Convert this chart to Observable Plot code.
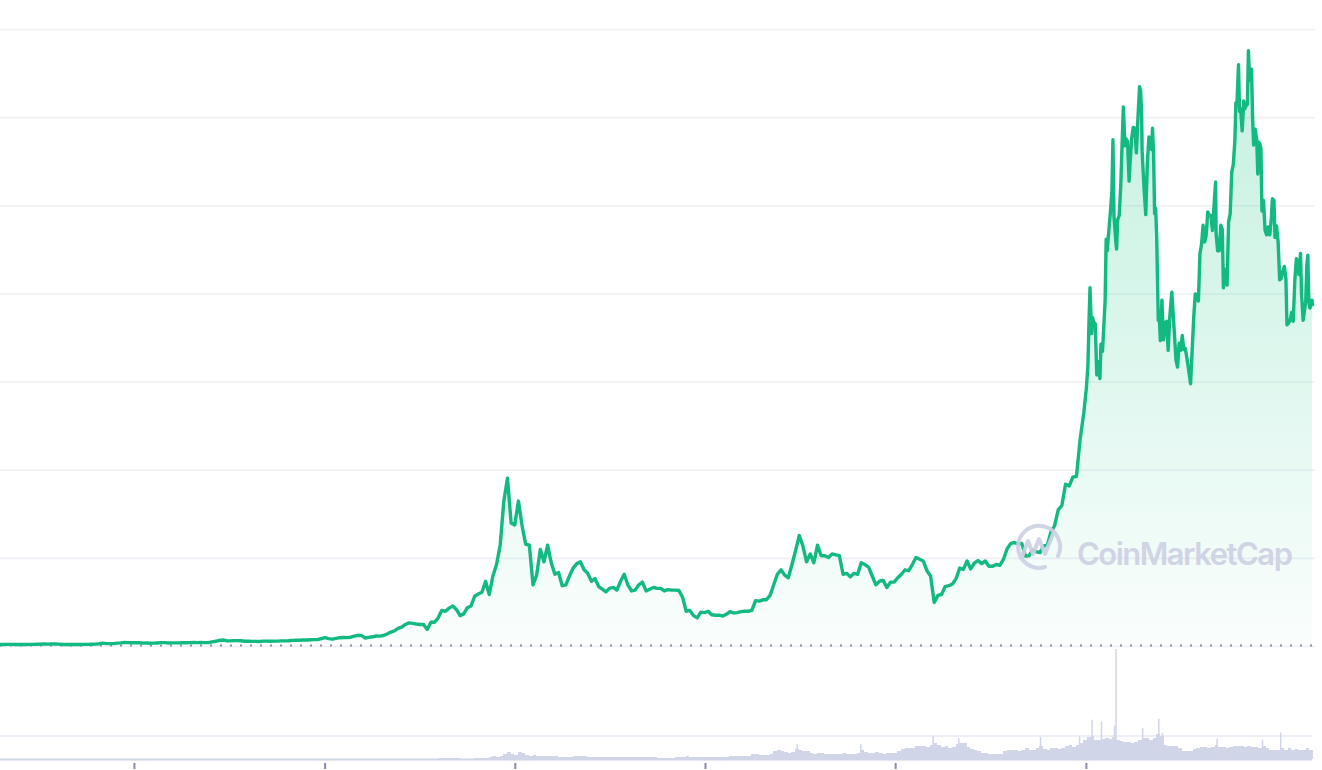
<!DOCTYPE html>
<html>
<head>
<meta charset="utf-8">
<script src="https://cdn.jsdelivr.net/npm/d3@7"></script>
<script src="https://cdn.jsdelivr.net/npm/@observablehq/plot@0.6"></script>
<style>
  html, body { margin: 0; padding: 0; background: #ffffff; }
  #chart { position: relative; width: 1322px; height: 770px; overflow: hidden; background: #ffffff; }
  #chart svg { position: absolute; left: 0; max-width: none; background: transparent; }
</style>
</head>
<body>
<div id="chart"></div>
<script>
// ---------- data ----------
const domainStart = "2015-04-19";
const domainEnd = "2022-03-11";
const weeklyStart = "2015-04-19"; // weekly points, one per week from this Sunday

// weekly BTC price (USD), Apr 2015 – Dec 2020
const weeklyPrices2015 = [225,235,240,240,235,237,225,230,245,245,260,270,290,275,290,278,265,230,228,235,240,232,230,238,245,262,270,315,380,330,330,325,380,410,450,440,430];
const weeklyPrices2016 = [430,445,385,400,375,380,405,435,435,405,415,410,415,420,420,435,460,445,455,445,445,530,590,690,740,660,640,665,665,655,590,590,580,580,575,610,608,600,605,610,640,640,655,700,705,710,735,735,765,775,795,900];
const weeklyPrices2017 = [1000,900,830,920,1000,1020,1010,1050,1180,1270,1230,970,1040,1100,1190,1180,1250,1420,1640,1780,2050,2200,2500,2680,2620,2550,2500,2500,1930,2750,2750,3250,4100,4000,4350,4600,4200,3500,3700,4400,4600,5700,5950,6150,7400,5900,8000,9300,11500,16500,19100,14000,13800];
const weeklyPrices2018 = [16500,13700,11600,11500,7000,8100,11000,9600,11500,9500,8200,8400,6900,7000,8000,8900,9400,9600,8700,8300,7400,7700,6800,6500,6200,6600,6700,6400,7400,8200,7000,6300,6400,7000,7300,6300,6500,6700,6600,6600,6300,6450,6400,6400,6350,5600,4000,4100,3500,3250,3900,3850];
const weeklyPrices2019 = [4000,3600,3550,3550,3450,3650,3950,3800,3850,3950,4000,4000,4100,5200,5150,5300,5300,5800,7000,8200,8700,8100,7800,9300,10900,12600,11400,9600,10500,9500,11500,10300,10300,10100,10500,10400,10300,8200,8300,7900,8300,8200,9500,9300,9000,8000,7000,7400,7500,6700,7300,7300];
const weeklyPrices2020 = [7800,8200,8700,8600,9300,10100,9900,9700,8600,8000,5000,5800,5900,6800,6900,7100,7700,8900,8750,9700,8800,9450,9750,9400,9700,9100,9100,9300,9200,9900,11100,11700,11800,11650,11700,10250,10300,10950,10750,10650,11400,11500,13000,13700,15500,16000,18400,18200,19200,19300,23500,26500];

// denser points, Jan 2021 – Mar 2022
const recentDates = ["2021-01-01","2021-01-04","2021-01-06","2021-01-08","2021-01-11","2021-01-13","2021-01-15","2021-01-18","2021-01-21","2021-01-24","2021-01-27","2021-01-29",
"2021-02-01","2021-02-04","2021-02-06","2021-02-08","2021-02-10","2021-02-13","2021-02-16","2021-02-19","2021-02-21","2021-02-23","2021-02-26","2021-02-28",
"2021-03-02","2021-03-05","2021-03-08","2021-03-10","2021-03-13","2021-03-16","2021-03-18","2021-03-21","2021-03-24","2021-03-26","2021-03-29",
"2021-04-01","2021-04-04","2021-04-07","2021-04-10","2021-04-13","2021-04-15","2021-04-17","2021-04-18","2021-04-22","2021-04-25","2021-04-28",
"2021-05-01","2021-05-03","2021-05-06","2021-05-08","2021-05-10","2021-05-12","2021-05-14","2021-05-16","2021-05-19","2021-05-21","2021-05-23","2021-05-26","2021-05-29",
"2021-06-01","2021-06-04","2021-06-07","2021-06-10","2021-06-14","2021-06-16","2021-06-19","2021-06-22","2021-06-25","2021-06-28",
"2021-07-01","2021-07-04","2021-07-07","2021-07-10","2021-07-13","2021-07-16","2021-07-20","2021-07-23","2021-07-26","2021-07-29",
"2021-08-01","2021-08-04","2021-08-07","2021-08-10","2021-08-13","2021-08-16","2021-08-19","2021-08-22","2021-08-25","2021-08-28","2021-08-31",
"2021-09-03","2021-09-06","2021-09-07","2021-09-10","2021-09-13","2021-09-16","2021-09-19","2021-09-21","2021-09-24","2021-09-28",
"2021-10-01","2021-10-04","2021-10-07","2021-10-10","2021-10-13","2021-10-15","2021-10-17","2021-10-20","2021-10-22","2021-10-24","2021-10-27","2021-10-30",
"2021-11-01","2021-11-04","2021-11-06","2021-11-08","2021-11-10","2021-11-12","2021-11-14","2021-11-16","2021-11-18","2021-11-21","2021-11-24","2021-11-26","2021-11-28","2021-11-30",
"2021-12-02","2021-12-04","2021-12-07","2021-12-10","2021-12-13","2021-12-16","2021-12-19","2021-12-22","2021-12-24","2021-12-27","2021-12-29",
"2022-01-01","2022-01-04","2022-01-07","2022-01-10","2022-01-13","2022-01-16","2022-01-19","2022-01-21","2022-01-24","2022-01-27","2022-01-30",
"2022-02-02","2022-02-05","2022-02-08","2022-02-10","2022-02-13","2022-02-16","2022-02-18","2022-02-21","2022-02-24","2022-02-26","2022-02-28",
"2022-03-02","2022-03-04","2022-03-06","2022-03-08","2022-03-10","2022-03-11"];
const recentPrices = [29300,31900,36800,40700,35500,37300,36800,36600,30800,32300,30400,34300,
33500,36900,39300,46200,44900,47100,49200,51600,57500,48800,46300,45100,
48400,48900,52300,56000,61200,56800,57600,57300,52800,55000,57700,
58900,58800,56000,60000,63500,63100,60600,56200,51700,49000,54800,
57800,56600,56400,58800,55800,49100,49700,46400,37000,37300,34700,39300,34800,
36700,36900,33600,37300,40200,38300,35500,32500,31700,34400,
33600,35300,33700,33800,32700,31500,29800,33600,37300,40000,
39900,39200,44600,45600,47800,45900,46700,49300,48900,48900,47200,
50000,52700,46800,44900,44900,47800,47300,40700,42800,41000,
48200,49100,53800,54700,57400,61700,61500,66000,60700,61000,58500,61900,
61000,61400,61500,67600,64900,64200,65500,60100,56900,58700,57500,53600,57200,57000,
56500,49400,50600,47200,46700,47600,46700,48600,50800,50600,46400,
47700,45900,41600,41800,42600,43100,41700,36500,36700,37000,37900,
36900,41500,44000,43600,42200,44600,40000,37000,38300,39100,43200,
44400,39100,38400,38700,39300,38800];

// weekly trading volume (billion USD), Apr 2015 – Mar 2022
const volume2015 = [0.03,0.03,0.02,0.02,0.02,0.02,0.02,0.02,0.03,0.03,0.03,0.04,0.05,0.04,0.03,0.03,0.04,0.05,0.03,0.03,0.02,0.02,0.02,0.03,0.03,0.04,0.05,0.08,0.12,0.07,0.05,0.04,0.06,0.06,0.07,0.05,0.04];
const volume2016 = [0.06,0.07,0.08,0.06,0.05,0.05,0.05,0.05,0.06,0.05,0.05,0.05,0.05,0.05,0.05,0.05,0.06,0.06,0.06,0.06,0.06,0.1,0.12,0.2,0.18,0.12,0.1,0.09,0.08,0.07,0.12,0.1,0.08,0.07,0.07,0.07,0.07,0.07,0.07,0.07,0.08,0.08,0.08,0.1,0.1,0.09,0.09,0.09,0.1,0.1,0.12,0.15];
const volume2017 = [0.25,0.2,0.15,0.12,0.13,0.12,0.1,0.15,0.25,0.3,0.25,0.4,0.35,0.3,0.35,0.3,0.35,0.45,0.8,1.1,1.3,1.4,1.3,1.3,1.2,1.1,0.9,0.9,1.1,1.0,1.1,1.6,2.3,2.2,1.6,1.6,1.8,1.3,0.9,1.1,1.5,2.6,1.8,1.9,2.4,6,8,7,10,16,21,17,14];
const volume2018 = [22,19,14,10,12,9,10,8,9,11,9,7,6,6,7,8,8,9,8,7,6,6,5,5,5,5,5,5,6,6,5,5,5,5,5,5,5,5,4.5,4.5,4.5,4.5,4.5,5,5,7,8,6,6,6,7,6];
const volume2019 = [6,6,6,6,6,7,8,8,8,8,9,9,15,17,13,14,14,17,26,28,25,22,19,22,32,28,25,24,19,17,19,18,16,15,16,15,15,18,16,16,15,18,28,22,20,19,22,18,17,19,20,20];
const volume2020 = [26,32,35,34,36,40,42,40,38,45,50,44,38,40,36,38,48,52,50,38,33,30,24,20,18,17,16,16,16,26,30,28,29,26,28,34,30,30,36,42,32,30,34,35,33,35,42,44,38,45,52,60];
const volume2021 = [70,72,62,60,65,66,64,70,60,56,55,54,52,54,60,68,66,62,68,78,72,46,42,40,42,34,27,25,26,32,36,38,37,36,38,44,38,38,36,38,40,42,40,38,40,38,37,36,42,34,30,30];
const volume2022 = [30,34,28,36,30,32,30,30,34,30];

// single-day volume spikes (billion USD)
const volumeSpikeDates = ["2019-06-26","2019-10-26","2020-03-13","2020-05-01","2020-10-05","2020-12-19","2021-01-12","2021-01-30","2021-02-24","2021-02-27","2021-04-19","2021-05-20","2021-05-27","2021-09-09","2021-12-05","2022-01-09"];
const volumeSpikeValues = [47,47,74,67,70,72,125,120,106,350,99,128,83,65,61,84];

// gridlines and axis ticks
const priceGridValues = [0,10000,20000,30000,40000,50000,60000,70000];
const volumeGridValues = [75];
const axisTickDates = ["2016-01-01","2017-01-01","2018-01-01","2019-01-01","2020-01-01","2021-01-01"];

// ---------- build tables ----------
const weeklyPrices = [...weeklyPrices2015, ...weeklyPrices2016, ...weeklyPrices2017, ...weeklyPrices2018, ...weeklyPrices2019, ...weeklyPrices2020];
const weeklyVolumes = [...volume2015, ...volume2016, ...volume2017, ...volume2018, ...volume2019, ...volume2020, ...volume2021, ...volume2022];
const start = new Date(weeklyStart);
const prices = [
  ...weeklyPrices.map((p, i) => ({date: d3.utcDay.offset(start, 7 * i), price: p})),
  ...recentDates.map((d, i) => ({date: new Date(d), price: recentPrices[i]}))
];
const volumes = weeklyVolumes.map((v, i) => {
  const s = d3.utcDay.offset(start, 7 * i);
  return {start: s, end: d3.utcDay.offset(s, 7), volume: v};
});
const spikes = volumeSpikeDates.map((d, i) => ({date: new Date(d), volume: volumeSpikeValues[i]}));
const ticks = axisTickDates.map(d => new Date(d));
const xDomain = [new Date(domainStart), new Date(domainEnd)];

const GREEN = "#12b981";
const FILLGREEN = "#16c784";
const VOL = "#d1d5e8";

// ---------- price panel ----------
const pricePlot = Plot.plot({
  width: 1322, height: 660,
  marginLeft: 0, marginRight: 10, marginTop: 29, marginBottom: 14,
  style: {background: "transparent"},
  x: {type: "utc", domain: xDomain, axis: null},
  y: {domain: [0, 70000], axis: null},
  marks: [
    Plot.ruleY(priceGridValues, {stroke: "#eff0f6", strokeWidth: 1.6, insetRight: -3}),
    Plot.areaY(prices, {x: "date", y: "price", fill: "url(#priceFill)"}),
    Plot.ruleY([0], {stroke: "#8f8cab", strokeWidth: 2, strokeDasharray: "2,8", dy: -1}),
    Plot.lineY(prices, {x: "date", y: "price", stroke: GREEN, strokeWidth: 3.4, strokeLinejoin: "round", strokeLinecap: "round"})
  ]
});
const defs = d3.select(pricePlot).insert("defs", ":first-child");
const grad = defs.append("linearGradient").attr("id", "priceFill")
  .attr("x1", 0).attr("x2", 0).attr("y1", 0).attr("y2", 1);
[[0, 0.25], [0.45, 0.16], [0.8, 0.07], [1, 0.02]].forEach(([o, a]) =>
  grad.append("stop").attr("offset", o).attr("stop-color", FILLGREEN).attr("stop-opacity", a));
pricePlot.style.top = "0px";

// ---------- volume panel ----------
const volumePlot = Plot.plot({
  width: 1322, height: 122,
  marginLeft: 0, marginRight: 10, marginTop: 9, marginBottom: 3,
  style: {background: "transparent"},
  x: {type: "utc", domain: xDomain, axis: null},
  y: {domain: [0, 350], axis: null},
  marks: [
    Plot.ruleY(volumeGridValues, {stroke: "#eff0f7", strokeWidth: 2}),
    Plot.rectY(volumes, {x1: "start", x2: "end", y: "volume", fill: VOL, shapeRendering: "crispEdges"}),
    Plot.ruleX(spikes, {x: "date", y1: 0, y2: "volume", stroke: VOL, strokeWidth: 1.5}),
    Plot.ruleY([0], {stroke: VOL, strokeWidth: 2}),
    Plot.ruleY([0], {stroke: "#eef0f8", strokeWidth: 1.5, dy: 3})
  ]
});
volumePlot.style.top = "640px";

// ---------- axis ticks ----------
const tickPlot = Plot.plot({
  width: 1322, height: 6,
  marginLeft: 0, marginRight: 10, marginTop: 0, marginBottom: 0,
  style: {background: "transparent"},
  x: {type: "utc", domain: xDomain, axis: null},
  marks: [
    Plot.ruleX(ticks, {stroke: "#8d8aab", strokeWidth: 2})
  ]
});
tickPlot.style.top = "763px";

const chart = document.getElementById("chart");
chart.append(pricePlot, volumePlot, tickPlot);

// ---------- watermark ----------
const wm = d3.select(chart).append("svg")
  .attr("width", 1322).attr("height", 770)
  .style("top", "0px").style("pointer-events", "none");
const logo = wm.append("g").attr("fill", "none").attr("stroke", "#cdd0e3")
  .attr("stroke-width", 4).attr("stroke-linecap", "round").attr("stroke-linejoin", "round")
  .attr("opacity", 0.9);
logo.append("path").attr("d", "M1058 556 A21 21 0 1 0 1045 567");
logo.append("path").attr("d", "M1022 557 L1028 541 L1033 554 L1039 539 L1045 554 L1053 534");
wm.append("text")
  .attr("x", 1077).attr("y", 565)
  .attr("font-family", "Inter, 'Noto Sans', sans-serif")
  .attr("font-weight", 600).attr("font-size", 31)
  .attr("textLength", 216)
  .attr("fill", "#cdd0e3").attr("opacity", 0.9)
  .text("CoinMarketCap");
</script>
</body>
</html>
